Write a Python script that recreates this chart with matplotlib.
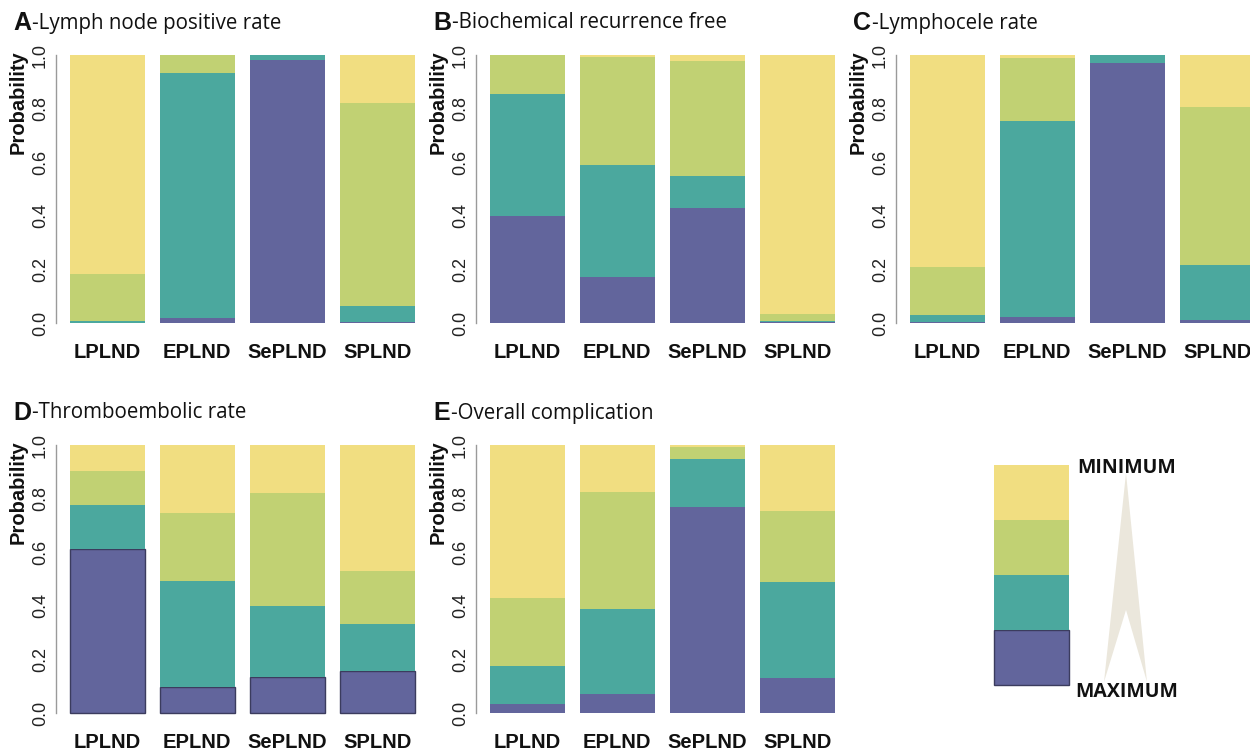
import matplotlib
matplotlib.use("Agg")
import matplotlib.pyplot as plt
import numpy as np
from matplotlib.patches import Polygon, Rectangle

methods = ["LPLND", "EPLND", "SePLND", "SPLND"]

# rank probabilities, rank1 = best (bottom, purple) ... rank4 = worst (top, yellow)
A_rank1 = [0.001, 0.017, 0.983, 0.002]
A_rank2 = [0.008, 0.915, 0.017, 0.060]
A_rank3 = [0.175, 0.068, 0.000, 0.758]
A_rank4 = [0.816, 0.000, 0.000, 0.180]

B_rank1 = [0.400, 0.170, 0.430, 0.002]
B_rank2 = [0.455, 0.421, 0.117, 0.004]
B_rank3 = [0.145, 0.400, 0.432, 0.029]
B_rank4 = [0.000, 0.009, 0.021, 0.965]

C_rank1 = [0.005, 0.021, 0.969, 0.012]
C_rank2 = [0.026, 0.733, 0.031, 0.205]
C_rank3 = [0.178, 0.234, 0.000, 0.588]
C_rank4 = [0.791, 0.012, 0.000, 0.195]

D_rank1 = [0.611, 0.098, 0.135, 0.158]
D_rank2 = [0.164, 0.394, 0.265, 0.175]
D_rank3 = [0.128, 0.253, 0.421, 0.197]
D_rank4 = [0.097, 0.255, 0.179, 0.470]

E_rank1 = [0.034, 0.070, 0.770, 0.129]
E_rank2 = [0.140, 0.319, 0.178, 0.360]
E_rank3 = [0.256, 0.437, 0.045, 0.265]
E_rank4 = [0.570, 0.174, 0.007, 0.246]

letters = ["A", "B", "C", "D", "E"]
titles = ["Lymph node positive rate", "Biochemical recurrence free",
          "Lymphocele rate", "Thromboembolic rate", "Overall complication"]
panel_data = [
    [A_rank1, A_rank2, A_rank3, A_rank4],
    [B_rank1, B_rank2, B_rank3, B_rank4],
    [C_rank1, C_rank2, C_rank3, C_rank4],
    [D_rank1, D_rank2, D_rank3, D_rank4],
    [E_rank1, E_rank2, E_rank3, E_rank4],
]
colors = ["#62659c", "#4ba89e", "#c1d173", "#f1de81"]

W, H = 1250, 751
fig = plt.figure(figsize=(12.5, 7.51), dpi=100)

# panel placement in pixels: (left of plot region, y of the 1.0 line)
lefts = [56, 476, 896, 56, 476]
tops = [55, 55, 55, 445, 445]
ppu_x = 75.0   # pixels per bar unit
ppu_y = 268.0  # pixels per probability unit

xlim = (0.016, 4.984)
ylim = (-0.04, 1.04)
centers = 0.7 + 1.2 * np.arange(len(methods))

for k in range(5):
    left_px = lefts[k]
    top_px = tops[k] - 0.04 * ppu_y
    w_px = (xlim[1] - xlim[0]) * ppu_x
    h_px = (ylim[1] - ylim[0]) * ppu_y
    ax = fig.add_axes([left_px / W, 1 - (top_px + h_px) / H, w_px / W, h_px / H])
    ax.set_xlim(*xlim)
    ax.set_ylim(*ylim)

    bottom = np.zeros(len(methods))
    for r, vals in enumerate(panel_data[k]):
        vals = np.array(vals)
        if k == 3 and r == 0:
            ax.bar(centers, vals, width=1.0, bottom=bottom, color=colors[r],
                   edgecolor="#3b3c5e", linewidth=1.0, clip_on=False)
        else:
            ax.bar(centers, vals, width=1.0, bottom=bottom, color=colors[r],
                   linewidth=0, clip_on=False)
        bottom += vals

    for s in ["top", "right", "bottom"]:
        ax.spines[s].set_visible(False)
    ax.spines["left"].set_bounds(0, 1)
    ax.spines["left"].set_color("#9a9a9a")
    ax.spines["left"].set_linewidth(1.0)

    ax.set_yticks([0, 0.2, 0.4, 0.6, 0.8, 1.0])
    ax.set_yticklabels(["0.0", "0.2", "0.4", "0.6", "0.8", "1.0"],
                       rotation=90, va="center", fontsize=13, color="#222222",
                       family="Liberation Sans")
    ax.tick_params(axis="y", length=0, pad=5)
    ax.set_xticks(centers)
    ax.set_xticklabels(methods, fontsize=14.5, fontweight="bold",
                       family="Liberation Sans", color="#111111")
    ax.tick_params(axis="x", length=0, pad=7)

    ax.text(-0.102, 0.826, "Probability", transform=ax.get_yaxis_transform(),
            rotation=90, ha="center", va="center", fontsize=14.5,
            fontweight="bold", family="Liberation Sans", color="#111111")

    # panel title: bold letter followed by the name
    tx = (left_px - 43) / W
    ty = 1 - (tops[k] - 32) / H
    lt = fig.text(tx, ty, letters[k], fontsize=18, fontweight="bold",
                  family="Liberation Sans", color="#111111", va="center")
    fig.canvas.draw()
    bb = lt.get_window_extent()
    fig.text((bb.x1 + 1) / W, ty, "-" + titles[k], fontsize=14.8,
             family="Open Sans", color="#111111", va="center")

# legend on the lower right
lax = fig.add_axes([0, 0, 1, 1])
lax.set_xlim(0, W)
lax.set_ylim(H, 0)
lax.axis("off")
box_top, box_h = 465, 55
for r in range(4):
    y0 = box_top + (3 - r) * box_h
    if r == 0:
        lax.add_patch(Rectangle((994, y0), 75, box_h, facecolor=colors[r],
                                edgecolor="#3b3c5e", linewidth=1.0))
    else:
        lax.add_patch(Rectangle((994, y0), 75, box_h, facecolor=colors[r],
                                linewidth=0))
lax.add_patch(Polygon([(1126, 473), (1147, 682), (1126, 610), (1104, 682)],
                      closed=True, facecolor="#ebe7dc", edgecolor="none"))
lax.text(1127, 468, "MINIMUM", ha="center", va="center", fontsize=14,
         fontweight="bold", family="Open Sans", color="#111111")
lax.text(1127, 692, "MAXIMUM", ha="center", va="center", fontsize=14,
         fontweight="bold", family="Open Sans", color="#111111")

fig.savefig("out.png", dpi=100)
